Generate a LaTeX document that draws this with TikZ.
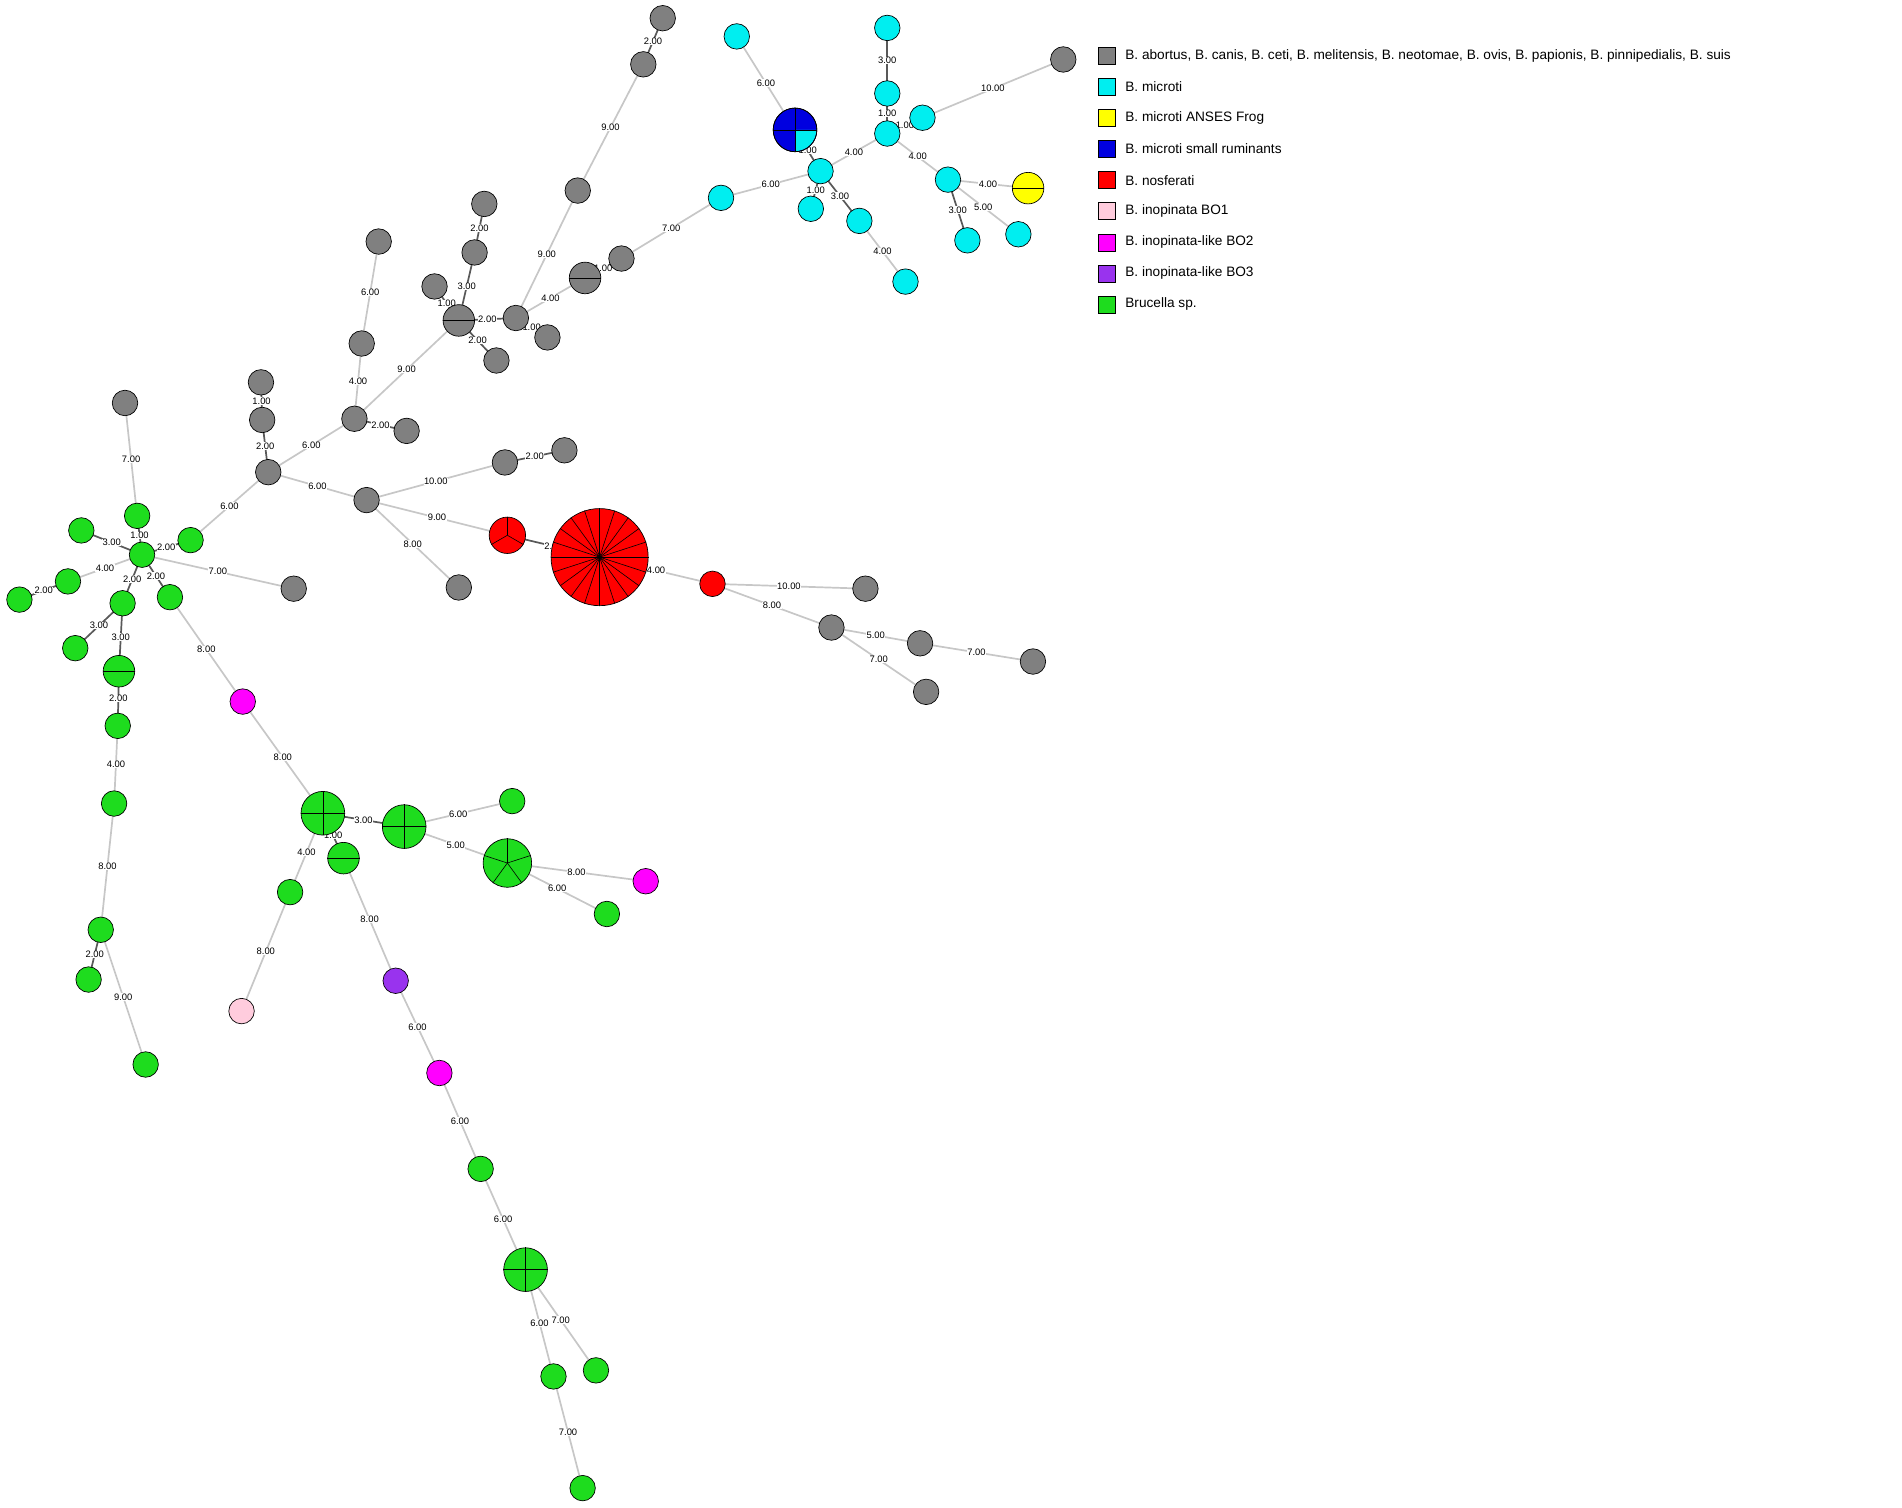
\documentclass[tikz,border=0pt]{standalone}
\usepackage{fontspec}
\setmainfont{Liberation Sans}
\definecolor{cgray}{HTML}{808080}
\definecolor{ccyan}{HTML}{00EEF0}
\definecolor{cgreen}{HTML}{1EDC1E}
\definecolor{cred}{HTML}{FF0000}
\definecolor{cmag}{HTML}{FF00FF}
\definecolor{cpur}{HTML}{9933EE}
\definecolor{cpink}{HTML}{FFCCDD}
\definecolor{cyel}{HTML}{FFFF00}
\definecolor{cblue}{HTML}{0000E0}
\tikzset{
 elight/.style={draw=black!22,line width=2pt},
 edark/.style={draw=black!65,line width=2pt},
 lab/.style={font=\fontsize{11}{11}\selectfont,inner sep=0.5pt,fill=white},
 legsq/.style={draw=black,line width=0.6pt,minimum size=0.7cm,inner sep=0},
 legtx/.style={anchor=west,font=\fontsize{16}{16}\selectfont,inner sep=0}
}
\newcommand\ed[3]{\draw[elight] (#1) -- node[lab]{#3} (#2);}
\newcommand\edd[3]{\draw[edark] (#1) -- node[lab]{#3} (#2);}
\newcommand\nd[3]{\node[circle,draw=black,line width=0.8pt,fill=#3,minimum size={#2*0.1cm},inner sep=0] (n#1) at (#1) {};}
\newcommand\ndp[4]{\nd{#1}{#2}{#3}\foreach \a in {#4}{\draw[black,line width=0.7pt] (n#1.center) -- (n#1.\a);}}
\begin{document}
\begin{tikzpicture}[x=0.05cm,y=-0.05cm]
\useasboundingbox (0,0) rectangle (1567,1242);
% coordinates
\foreach \n/\x/\y in {g1/546/15,g2/530/53,g3/476/157,g4/312/199,g5/399/168,g6/391/208,g7/358/236,g8/378/264,g9/409/297,g10/425/262,g11/451/278,g12/482/229,g13/512/213,g14/298/283,g15/292/345,g16/335/355,g17/215/315,g18/216/346,g19/221/389,g20/103/332,g21/302/412,g22/416/381,g23/465/371,g24/378/484,g25/242/485,g26/713/485,g27/685/517,g28/758/530,g29/851/545,g30/763/570,g31/876/49,
r1/418/441,r2/494/459,r3/587/481,
c1/607/30,B1/655/107,c2/731/23,c3/731/77,c4/731/110,c5/760/97,c6/676/141,c7/668/172,c8/708/182,c9/746/232,c10/594/163,c11/781/148,c12/797/198,c13/839/193,Y1/847/155,
gr1/113/425,gr2/67/437,gr3/157/445,gr4/117/457,gr5/56/479,gr6/16/494,gr7/140/492,gr8/101/497,gr9/62/534,gr10/98/553,gr11/97/598,gr12/94/662,gr13/83/766,gr14/73/807,gr15/120/877,gr16/266/670,gr17/333/681,gr18/422/660,gr19/418/711,gr20/283/707,gr21/239/735,gr22/500/753,gr23/396/963,gr24/433/1046,gr25/456/1134,gr26/491/1129,gr27/480/1226,
m1/200/578,m2/532/726,m3/362/884,p1/199/833,pu1/326/808}
 {\coordinate (\n) at (\x,\y);}
% edges
\edd{g1}{g2}{2.00}\ed{g2}{g3}{9.00}\ed{g3}{g10}{9.00}\ed{g4}{g14}{6.00}
\edd{g5}{g6}{2.00}\edd{g6}{g8}{3.00}\edd{g7}{g8}{1.00}\edd{g8}{g9}{2.00}\edd{g8}{g10}{2.00}
\edd{g10}{g11}{1.00}\ed{g10}{g12}{4.00}\edd{g12}{g13}{1.00}\ed{g8}{g15}{9.00}\ed{g14}{g15}{4.00}
\edd{g15}{g16}{2.00}\ed{g15}{g19}{6.00}\edd{g17}{g18}{1.00}\edd{g18}{g19}{2.00}\ed{g19}{g21}{6.00}
\ed{g19}{gr3}{6.00}\ed{g20}{gr1}{7.00}\ed{g21}{g22}{10.00}\edd{g22}{g23}{2.00}\ed{g21}{g24}{8.00}
\ed{g21}{r1}{9.00}\edd{r1}{r2}{2.00}\ed{r2}{r3}{4.00}\ed{r3}{g26}{10.00}\ed{r3}{g27}{8.00}
\ed{g27}{g28}{5.00}\ed{g28}{g29}{7.00}\ed{g27}{g30}{7.00}\ed{g13}{c10}{7.00}\ed{c10}{c6}{6.00}
\ed{c1}{B1}{6.00}\edd{B1}{c6}{1.00}\edd{c6}{c7}{1.00}\edd{c6}{c8}{3.00}\ed{c8}{c9}{4.00}
\ed{c6}{c4}{4.00}\edd{c2}{c3}{3.00}\edd{c3}{c4}{1.00}\edd{c4}{c5}{1.00}\ed{c5}{g31}{10.00}
\ed{c4}{c11}{4.00}\ed{c11}{Y1}{4.00}\edd{c11}{c12}{3.00}\ed{c11}{c13}{5.00}
\edd{gr1}{gr4}{1.00}\edd{gr2}{gr4}{3.00}\edd{gr3}{gr4}{2.00}\ed{gr4}{gr5}{4.00}\edd{gr5}{gr6}{2.00}
\edd{gr4}{gr7}{2.00}\edd{gr4}{gr8}{2.00}\edd{gr8}{gr9}{3.00}\edd{gr8}{gr10}{3.00}\edd{gr10}{gr11}{2.00}
\ed{gr11}{gr12}{4.00}\ed{gr12}{gr13}{8.00}\edd{gr13}{gr14}{2.00}\ed{gr13}{gr15}{9.00}\ed{gr4}{g25}{7.00}
\ed{gr7}{m1}{8.00}\ed{m1}{gr16}{8.00}\edd{gr16}{gr17}{3.00}\edd{gr16}{gr20}{1.00}\ed{gr16}{gr21}{4.00}
\ed{gr21}{p1}{8.00}\ed{gr20}{pu1}{8.00}\ed{pu1}{m3}{6.00}\ed{m3}{gr23}{6.00}\ed{gr23}{gr24}{6.00}
\ed{gr24}{gr25}{6.00}\ed{gr24}{gr26}{7.00}\ed{gr25}{gr27}{7.00}\ed{gr17}{gr18}{6.00}\ed{gr17}{gr19}{5.00}
\ed{gr19}{m2}{8.00}\ed{gr19}{gr22}{6.00}
% nodes
\foreach \n in {g1,g2,g3,g4,g5,g6,g7,g9,g10,g11,g13,g14,g15,g16,g17,g18,g19,g20,g21,g22,g23,g24,g25,g26,g27,g28,g29,g30,g31}{\nd{\n}{10.5}{cgray}}
\ndp{g8}{13}{cgray}{0,180}\ndp{g12}{13}{cgray}{0,180}
\foreach \n in {c1,c2,c3,c4,c5,c6,c7,c8,c9,c10,c11,c12,c13}{\nd{\n}{10.5}{ccyan}}
\ndp{Y1}{13}{cyel}{0,180}
\nd{B1}{18}{cblue}
\fill[ccyan] (B1) -- ++(0:17.5) arc[start angle=0,end angle=90,radius=17.5] -- cycle;
\foreach \a in {0,90,180,270}{\draw[black,line width=0.7pt] (nB1.center) -- (nB1.\a);}
\draw[black,line width=0.8pt] (nB1) circle[radius=18];
\nd{r3}{10.5}{cred}
\ndp{r1}{15}{cred}{90,210,330}
\ndp{r2}{40}{cred}{0,18,36,54,72,90,108,126,144,162,180,198,216,234,252,270,288,306,324,342}
\foreach \n in {gr1,gr2,gr3,gr4,gr5,gr6,gr7,gr8,gr9,gr11,gr12,gr13,gr14,gr15,gr18,gr21,gr22,gr23,gr25,gr26,gr27}{\nd{\n}{10.5}{cgreen}}
\ndp{gr10}{13}{cgreen}{0,180}\ndp{gr20}{13}{cgreen}{0,180}
\ndp{gr16}{18}{cgreen}{0,90,180,270}\ndp{gr17}{18}{cgreen}{0,90,180,270}\ndp{gr24}{18}{cgreen}{0,90,180,270}
\ndp{gr19}{20}{cgreen}{18,90,162,234,306}
\foreach \n in {m1,m2,m3}{\nd{\n}{10.5}{cmag}}
\nd{p1}{10.5}{cpink}\nd{pu1}{10.5}{cpur}
% legend
\foreach \c/\t [count=\i] in {cgray/{B. abortus, B. canis, B. ceti, B. melitensis, B. neotomae, B. ovis, B. papionis, B. pinnipedialis, B. suis},ccyan/B. microti,cyel/B. microti ANSES Frog,cblue/B. microti small ruminants,cred/B. nosferati,cpink/B. inopinata BO1,cmag/B. inopinata-like BO2,cpur/B. inopinata-like BO3,cgreen/Brucella sp.}
 {\node[legsq,fill=\c] (L\i) at (912,{46+25.6*(\i-1)}) {};
  \node[legtx] (T\i) at (927,{46+25.6*(\i-1)}) {\t};}
\end{tikzpicture}
\end{document}
